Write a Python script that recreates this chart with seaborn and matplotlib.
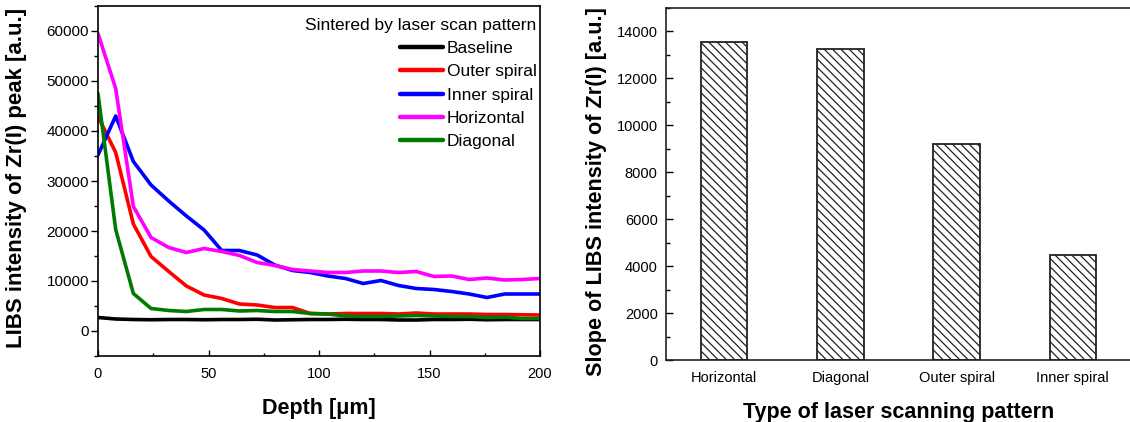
import numpy as np
import pandas as pd
import matplotlib
matplotlib.use("Agg")
import matplotlib.pyplot as plt
from matplotlib.ticker import MultipleLocator
import seaborn as sns

# ---------------- data ----------------
depth = [0, 8, 16, 24, 32, 40, 48, 56, 64, 72, 80, 88, 96, 104, 112, 120,
         128, 136, 144, 152, 160, 168, 176, 184, 192, 200]

baseline = [2700, 2400, 2300, 2250, 2300, 2300, 2250, 2300, 2300, 2350, 2200, 2250, 2300,
            2300, 2350, 2300, 2300, 2200, 2200, 2300, 2300, 2350, 2250, 2300, 2300, 2300]
outer_spiral = [42900, 35700, 21400, 14900, 11900, 9000, 7200, 6500, 5400, 5200, 4700, 4700, 3500,
                3400, 3500, 3500, 3500, 3400, 3600, 3400, 3400, 3400, 3300, 3300, 3250, 3200]
inner_spiral = [35200, 43000, 33900, 29200, 26000, 23000, 20200, 16100, 16100, 15200, 13200, 12100, 11700,
                11000, 10500, 9500, 10100, 9100, 8500, 8300, 7900, 7400, 6700, 7400, 7400, 7400]
horizontal = [59500, 48500, 24900, 18700, 16700, 15700, 16500, 15900, 15100, 13700, 13100, 12300, 12000,
              11700, 11700, 12000, 12000, 11700, 11900, 10900, 11000, 10300, 10600, 10200, 10300, 10500]
diagonal = [47500, 20300, 7500, 4500, 4100, 3900, 4300, 4300, 4000, 4100, 3900, 3900, 3500,
            3400, 3000, 2900, 2900, 3000, 3100, 3000, 2900, 2900, 2700, 2800, 2500, 2500]

series_names = ["Baseline", "Outer spiral", "Inner spiral", "Horizontal", "Diagonal"]
series_values = [baseline, outer_spiral, inner_spiral, horizontal, diagonal]
series_colors = ["#000000", "#ff0000", "#0000ff", "#ff00ff", "#007a00"]

bar_categories = ["Horizontal", "Diagonal", "Outer spiral", "Inner spiral"]
bar_values = [13530, 13270, 9200, 4480]

# ---------------- style ----------------
sns.set_theme(style="ticks")
plt.rcParams["font.family"] = ["Liberation Sans", "DejaVu Sans"]
plt.rcParams["text.color"] = "black"
plt.rcParams["axes.labelcolor"] = "black"
plt.rcParams["xtick.color"] = "black"
plt.rcParams["ytick.color"] = "black"
plt.rcParams["hatch.linewidth"] = 0.9
plt.rcParams["hatch.color"] = "#222222"

W, H = 1130, 422
fig = plt.figure(figsize=(W / 100, H / 100), dpi=100)

# left panel
ax1 = fig.add_axes([98 / W, 1 - 356 / H, (540 - 98) / W, (356 - 6) / H])
long_df = pd.DataFrame({
    "Depth": np.tile(depth, len(series_names)),
    "Intensity": np.concatenate(series_values),
    "Pattern": np.repeat(series_names, len(depth)),
})
sns.lineplot(data=long_df, x="Depth", y="Intensity", hue="Pattern",
             hue_order=series_names, palette=dict(zip(series_names, series_colors)),
             linewidth=2.6, ax=ax1, sort=False, estimator=None)
ax1.set_xlim(0, 200)
ax1.set_ylim(-5000, 65000)
ax1.xaxis.set_major_locator(MultipleLocator(50))
ax1.xaxis.set_minor_locator(MultipleLocator(25))
ax1.yaxis.set_major_locator(MultipleLocator(10000))
ax1.yaxis.set_minor_locator(MultipleLocator(5000))
ax1.tick_params(axis="x", which="major", direction="in", length=4.5, width=1, pad=8, labelsize=10.5)
ax1.tick_params(axis="x", which="minor", direction="in", length=2.5, width=1)
ax1.tick_params(axis="y", which="major", direction="out", length=5, width=1, pad=1.5, labelsize=11)
ax1.tick_params(axis="y", which="minor", direction="out", length=3, width=1)
for s in ax1.spines.values():
    s.set_linewidth(1.2)
    s.set_color("black")
ax1.set_xlabel("Depth [\u03bcm]", fontsize=15.5, fontweight="bold", labelpad=12)
ax1.set_ylabel("LIBS intensity of Zr(I) peak [a.u.]", fontsize=16, fontweight="bold")
ax1.yaxis.set_label_coords((27 - 98) / 442, (356 - 178) / 350)
leg = ax1.legend(title="Sintered by laser scan pattern", loc="upper right", frameon=False,
                 bbox_to_anchor=(1.0, 1 - 8.7 / 350),
                 fontsize=12.5, title_fontsize=12.5, handlelength=2.5, handletextpad=0.2,
                 labelspacing=0.46, borderpad=0.2, borderaxespad=0.0, alignment="right")
for line in leg.get_lines():
    line.set_linewidth(3.2)

# right panel
ax2 = fig.add_axes([666 / W, 1 - 360 / H, (1131 - 666) / W, (360 - 8) / H])
bar_df = pd.DataFrame({"Pattern": bar_categories, "Slope": bar_values})
sns.barplot(data=bar_df, x="Pattern", y="Slope", order=bar_categories, width=0.4,
            color="white", edgecolor="#222222", linewidth=1.3, ax=ax2)
for p in ax2.patches:
    p.set_hatch("\\\\\\\\")
ax2.set_xlim(-0.5, 3.5)
ax2.set_ylim(0, 15000)
ax2.yaxis.set_major_locator(MultipleLocator(2000))
ax2.yaxis.set_minor_locator(MultipleLocator(1000))
ax2.tick_params(axis="y", which="major", direction="in", length=5, width=1, pad=6, labelsize=10.5)
ax2.tick_params(axis="y", which="minor", direction="in", length=3, width=1)
ax2.tick_params(axis="x", which="both", length=0, pad=8, labelsize=10.5)
for s in ax2.spines.values():
    s.set_linewidth(1.2)
    s.set_color("#222222")
ax2.set_xlabel("Type of laser scanning pattern", fontsize=15.5, fontweight="bold", labelpad=12)
ax2.set_ylabel("Slope of LIBS intensity of Zr(I) [a.u.]", fontsize=15.6, fontweight="bold")
ax2.yaxis.set_label_coords((607 - 666) / 465, (360 - 192) / 352)

fig.savefig("out.png", dpi=100)
